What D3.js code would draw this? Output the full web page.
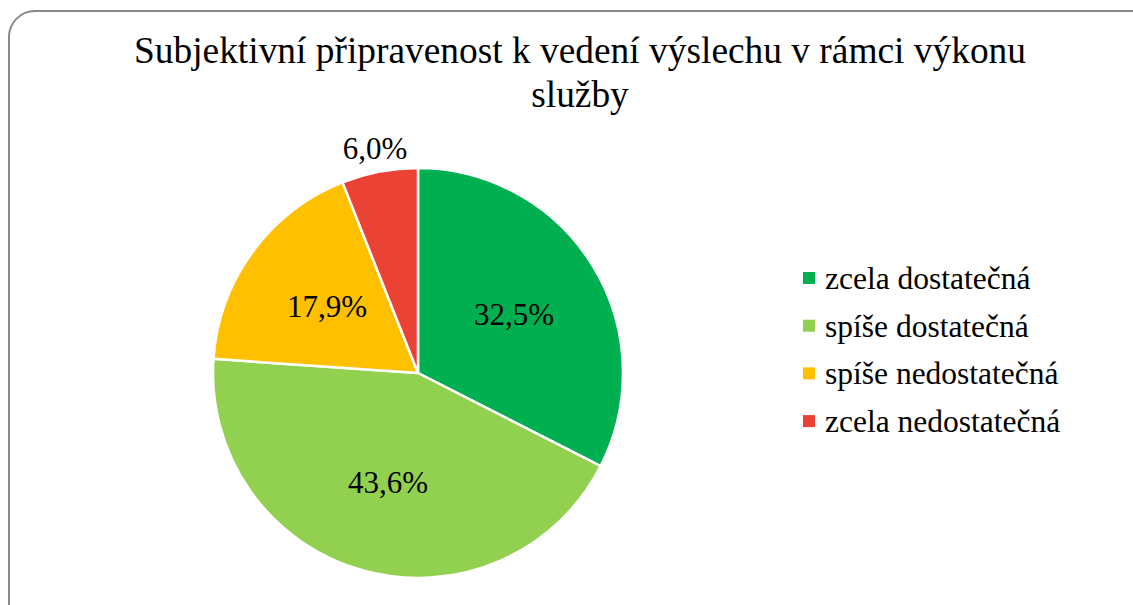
<!DOCTYPE html>
<html>
<head>
<meta charset="utf-8">
<script src="https://cdn.jsdelivr.net/npm/d3@7/dist/d3.min.js"></script>
<style>
  body { margin: 0; background: #fff; }
  text { font-family: "Liberation Serif", "Times New Roman", serif; fill: #000; }
</style>
</head>
<body>
<script>
// data
var categories = ["zcela dostatečná", "spíše dostatečná", "spíše nedostatečná", "zcela nedostatečná"];
var values = [32.5, 43.6, 17.9, 6.0];
var labels = ["32,5%", "43,6%", "17,9%", "6,0%"];
var colors = ["#00B050", "#92D050", "#FFC000", "#EA4335"];
var titleLines = ["Subjektivní připravenost k vedení výslechu v rámci výkonu", "služby"];

var svgWidth = 1133, svgHeight = 605;
var cx = 418, cy = 373, r = 205;

var svg = d3.select("body").append("svg")
    .attr("width", svgWidth)
    .attr("height", svgHeight);

// chart frame
svg.append("rect")
  .attr("x", 9).attr("y", 11)
  .attr("width", 1150).attr("height", 620)
  .attr("rx", 26).attr("ry", 26)
  .attr("fill", "#fff")
  .attr("stroke", "#898989")
  .attr("stroke-width", 2);

// title
svg.append("text")
  .attr("text-anchor", "middle")
  .attr("font-size", "37.4px")
  .selectAll("tspan")
  .data(titleLines)
  .enter()
  .append("tspan")
  .attr("x", 580)
  .attr("y", function(d, i){ return 63 + i * 43.5; })
  .text(function(d){ return d; });

var pie = d3.pie().sort(null).value(function(d){ return d; });
var arcs = pie(values);
var arc = d3.arc().innerRadius(0).outerRadius(r);

var g = svg.append("g").attr("transform", "translate(" + cx + "," + cy + ")");

g.selectAll(".slice")
  .data(arcs)
  .enter()
  .append("path")
  .attr("class", "slice")
  .attr("d", arc)
  .attr("fill", function(d, i){ return colors[i]; })
  .attr("stroke", "#fff")
  .attr("stroke-width", 2.5)
  .attr("stroke-linejoin", "round");

var labelArc = d3.arc().innerRadius(r * 0.55).outerRadius(r * 0.55);
var outerArc = d3.arc().innerRadius(r + 24).outerRadius(r + 24);

g.selectAll(".lbl")
  .data(arcs)
  .enter()
  .append("text")
  .attr("class", "lbl")
  .attr("text-anchor", "middle")
  .attr("dy", "0.35em")
  .attr("font-size", "31px")
  .attr("transform", function(d){
    var p = (d.endAngle - d.startAngle) < 0.5 ? outerArc.centroid(d) : labelArc.centroid(d);
    return "translate(" + p + ")";
  })
  .text(function(d, i){ return labels[i]; });

// legend
var legend = svg.append("g").attr("transform", "translate(803,278)");
var rows = legend.selectAll(".row")
  .data(categories)
  .enter()
  .append("g")
  .attr("class", "row")
  .attr("transform", function(d, i){ return "translate(0," + (i * 47.7) + ")"; });

rows.append("rect")
  .attr("x", 0).attr("y", -6)
  .attr("width", 12).attr("height", 12)
  .attr("fill", function(d, i){ return colors[i]; });

rows.append("text")
  .attr("x", 22)
  .attr("dy", "0.35em")
  .attr("font-size", "31.5px")
  .text(function(d){ return d; });
</script>
</body>
</html>
